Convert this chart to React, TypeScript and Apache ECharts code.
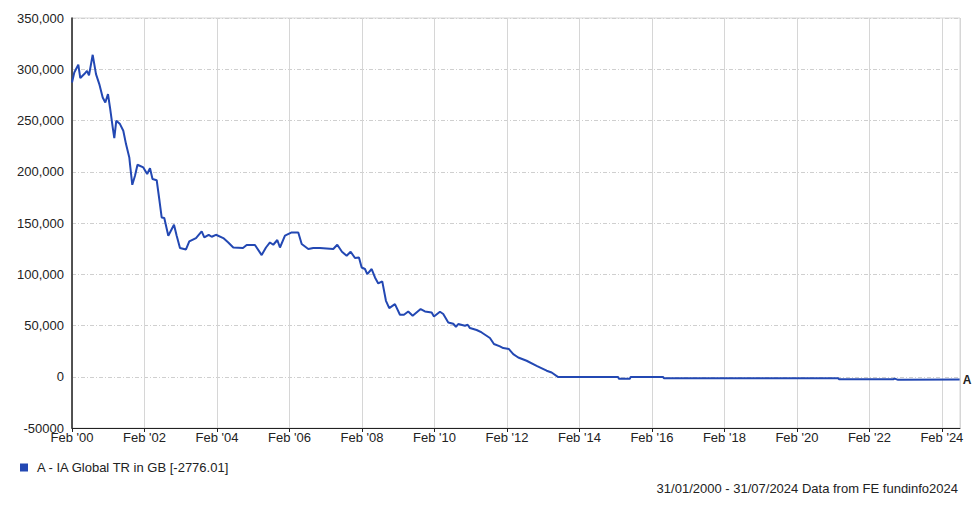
import React, { useEffect, useRef } from "react";
import * as echarts from "echarts";

// Years since 1 Feb 2000 (x axis position) and fund value
const yearOffsets = [
  0, 0.063, 0.174, 0.229, 0.339, 0.414, 0.469, 0.571, 0.662, 0.753, 0.847, 0.919, 0.993,
  1.048, 1.123, 1.167, 1.222, 1.324, 1.415, 1.49, 1.581, 1.6, 1.663, 1.738, 1.807, 1.967,
  2.074, 2.152, 2.221, 2.337, 2.414, 2.474, 2.546, 2.657, 2.814, 2.888, 2.979, 3.145, 3.236,
  3.421, 3.578, 3.65, 3.771, 3.854, 3.972, 4.174, 4.312, 4.45, 4.717, 4.819, 5.048, 5.233,
  5.352, 5.462, 5.553, 5.664, 5.738, 5.876, 6.061, 6.243, 6.337, 6.519, 6.657, 6.841, 7.208,
  7.319, 7.448, 7.578, 7.688, 7.807, 7.917, 7.992, 8.083, 8.146, 8.268, 8.359, 8.45, 8.56,
  8.662, 8.753, 8.91, 9.048, 9.159, 9.277, 9.399, 9.619, 9.738, 9.923, 9.986, 10.152, 10.243,
  10.381, 10.519, 10.593, 10.657, 10.841, 10.916, 10.979, 11.164, 11.302, 11.531, 11.641,
  11.807, 11.898, 12.055, 12.174, 12.312, 12.543, 12.819, 13.095, 13.233, 13.415, 15.07,
  15.09, 15.39, 15.41, 16.31, 16.33, 21.14, 21.16, 22.66, 22.7, 22.79, 24.49,
];

const values = [
  287100, 296900, 304400, 291400, 295300, 298500, 294000, 314100, 295300, 285500, 272500,
  267600, 275800, 262700, 243200, 232900, 249800, 246500, 240000, 227000, 214000, 207500,
  187300, 196100, 206800, 204200, 197800, 203400, 192900, 191700, 171700, 155400, 154800,
  137600, 148300, 137600, 125600, 124200, 132000, 135300, 141800, 135900, 138500, 136600,
  138500, 135300, 131000, 126100, 125600, 128500, 128500, 118700, 126100, 131000, 128800,
  133400, 126100, 137600, 140800, 140800, 129500, 124600, 125600, 125600, 124600, 128800,
  122000, 118000, 122000, 115800, 116400, 106600, 105100, 100200, 105100, 96900, 91000,
  93000, 74100, 67000, 70900, 60500, 60500, 63700, 59500, 66000, 63700, 62700, 58800, 63400,
  61200, 53000, 51700, 48800, 51400, 49800, 50700, 47500, 45600, 43200, 37800, 31900, 29600,
  28000, 27000, 22100, 18800, 15600, 10700, 5900, 4200, -300, -300, -2000, -2000, -300, -300,
  -1500, -1500, -2400, -2400, -1800, -3000, -2776.01,
];

const xTickLabels = ["00", "02", "04", "06", "08", "10", "12", "14", "16", "18", "20", "22", "24"];
const seriesName = "A - IA Global TR in GB [-2776.01]";
const footer = "31/01/2000 - 31/07/2024 Data from FE fundinfo2024";

const FONT = "'Liberation Sans', Arial, sans-serif";
const FS = 13;

export default function App() {
  const ref = useRef<HTMLDivElement>(null);

  useEffect(() => {
    document.body.style.margin = "0";
    if (!ref.current) return;
    const chart = echarts.init(ref.current, null, { renderer: "svg" });
    const data = yearOffsets.map((t, i) => [t, values[i]]);
    chart.setOption({
      animation: false,
      backgroundColor: "#ffffff",
      textStyle: { fontFamily: FONT },
      grid: {
        left: 72,
        right: 20,
        top: 18,
        bottom: 81,
        containLabel: false,
        show: true,
        borderColor: "#d6d6d6",
        borderWidth: 1,
        backgroundColor: "transparent",
      },
      legend: {
        show: true,
        left: 15,
        top: 456,
        icon: "rect",
        itemWidth: 8,
        itemHeight: 8,
        itemGap: 10,
        textStyle: { fontFamily: FONT, fontSize: FS, color: "#222", padding: [0, 0, 0, 4] },
        data: [{ name: seriesName, itemStyle: { color: "#2348b3" } }],
      },
      xAxis: {
        type: "value",
        min: 0,
        max: 24.5,
        interval: 2,
        axisLine: { show: true, onZero: false, lineStyle: { color: "#222", width: 1 } },
        axisTick: { show: true, length: 4, lineStyle: { color: "#222" } },
        axisLabel: {
          showMaxLabel: false,
          margin: 3,
          fontFamily: FONT,
          fontSize: FS,
          color: "#222",
          formatter: (v: number) => {
            const idx = Math.round(v / 2);
            if (Math.abs(v - idx * 2) > 1e-6 || idx >= xTickLabels.length) return "";
            return "Feb '" + xTickLabels[idx];
          },
        },
        splitLine: { show: true, lineStyle: { color: "#d6d6d6", width: 1, type: "solid" } },
      },
      yAxis: {
        type: "value",
        min: -50000,
        max: 350000,
        interval: 50000,
        axisLine: { show: true, onZero: false, lineStyle: { color: "#222", width: 1.5 } },
        axisTick: { show: false },
        axisLabel: {
          margin: 8,
          fontFamily: FONT,
          fontSize: FS,
          color: "#222",
          formatter: (v: number) => (v < 0 ? String(v) : v.toLocaleString("en-US")),
        },
        splitLine: { show: true, lineStyle: { color: "#cfcfcf", width: 1, type: [4, 2, 1, 2] } },
      },
      series: [
        {
          name: seriesName,
          type: "line",
          data,
          showSymbol: false,
          symbol: "none",
          lineStyle: { color: "#2348b3", width: 2 },
          itemStyle: { color: "#2348b3" },
          endLabel: {
            show: true,
            formatter: "A",
            distance: 3,
            fontFamily: FONT,
            fontSize: 12,
            fontWeight: "bold",
            color: "#222",
          },
        },
      ],
      graphic: [
        {
          type: "text",
          right: 22,
          top: 482,
          style: { text: footer, fontFamily: FONT, fontSize: FS, fill: "#222" },
        },
      ],
    });
    return () => chart.dispose();
  }, []);

  return <div ref={ref} style={{ width: 980, height: 509 }} />;
}
